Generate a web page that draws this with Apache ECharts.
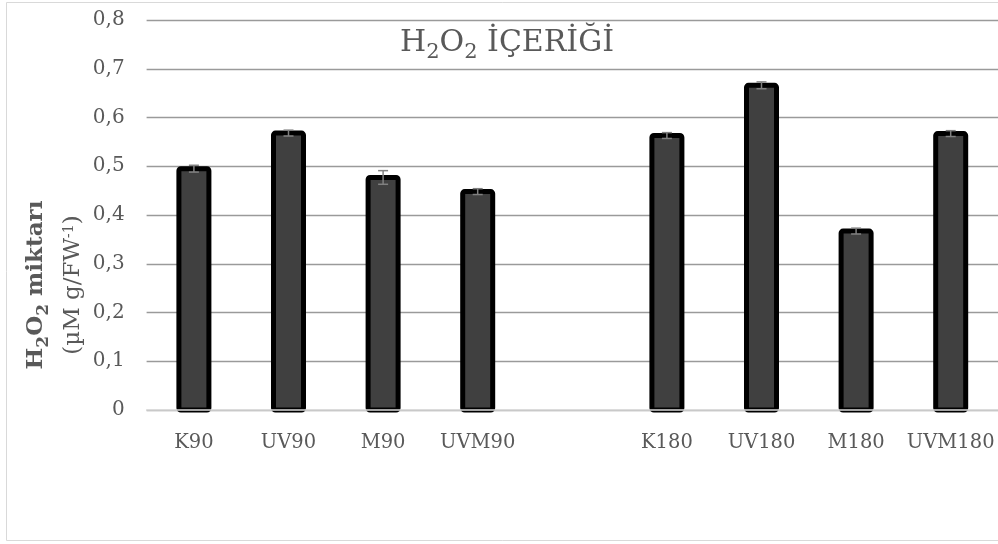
<!DOCTYPE html>
<html>
<head>
<meta charset="utf-8">
<script src="https://cdn.jsdelivr.net/npm/echarts@6/dist/echarts.min.js"></script>
<style>
  html, body { margin: 0; padding: 0; background: #fff; }
  #chart { width: 998px; height: 544px; }
</style>
</head>
<body>
<div id="chart"></div>
<script>
// H2O2 content per treatment group (90 and 180 day groups, blank slot between them)
const categories = ['K90', 'UV90', 'M90', 'UVM90', '', 'K180', 'UV180', 'M180', 'UVM180'];
const h2o2Values = [0.495, 0.568, 0.477, 0.448, null, 0.563, 0.666, 0.367, 0.567];
const h2o2Errors = [0.007, 0.006, 0.014, 0.006, null, 0.006, 0.007, 0.006, 0.006];
const yTickLabels = ['0', '0,1', '0,2', '0,3', '0,4', '0,5', '0,6', '0,7', '0,8'];

const FONT = '"DejaVu Serif", "Liberation Serif", serif';
const TEXT = '#595959';

const chart = echarts.init(document.getElementById('chart'), null, { renderer: 'canvas' });

// [categoryIndex, value, error] rows, skipping the empty slot
const rows = h2o2Values
  .map((v, i) => (v == null ? null : [i, v, h2o2Errors[i]]))
  .filter(d => d);

const BAR_W = 30;     // fill width; the 5px outline is centred on its edge
const BORDER = 5;

chart.setOption({
  animation: false,
  backgroundColor: '#ffffff',
  graphic: [
    {
      type: 'rect',
      shape: { x: 6.5, y: 2.5, width: 1000, height: 538 },
      style: { fill: 'none', stroke: '#d9d9d9', lineWidth: 1 },
      silent: true,
      z: -10
    },
    {
      // chart title
      type: 'text',
      x: 507,
      y: 28,
      style: {
        text: '{m|H}{s|2}{m|O}{s|2}{m| İÇERİĞİ}',
        align: 'center',
        verticalAlign: 'top',
        rich: {
          m: { fontFamily: FONT, fontSize: 30, fontWeight: 'normal', fill: TEXT, verticalAlign: 'top', lineHeight: 40 },
          s: { fontFamily: FONT, fontSize: 21, fontWeight: 'normal', fill: TEXT, verticalAlign: 'top', lineHeight: 26, padding: [14, 0, 0, 0] }
        }
      },
      z: 20
    },
    {
      // value axis title, two lines read bottom-to-top
      type: 'text',
      x: 62,
      y: 285,
      rotation: Math.PI / 2,
      style: {
        text: '{b|H}{bs|2}{b|O}{bs|2}{b| miktarı}\n{n|(µM g/FW}{sup|-1}{n|)}',
        align: 'center',
        verticalAlign: 'middle',
        rich: {
          b: { fontFamily: FONT, fontSize: 23, fontWeight: 'bold', fill: TEXT, verticalAlign: 'top', lineHeight: 37, align: 'center' },
          bs: { fontFamily: FONT, fontSize: 17, fontWeight: 'bold', fill: TEXT, verticalAlign: 'top', lineHeight: 27, padding: [10, 0, 0, 0], align: 'center' },
          n: { fontFamily: FONT, fontSize: 23, fill: TEXT, verticalAlign: 'top', lineHeight: 37, align: 'center' },
          sup: { fontFamily: FONT, fontSize: 14, fill: TEXT, verticalAlign: 'top', lineHeight: 23, padding: [0, 0, 14, 0], align: 'center' }
        }
      },
      z: 20
    }
  ],
  grid: {
    left: 146.6,
    right: 0,
    top: 20,
    bottom: 134,
    containLabel: false
  },
  xAxis: {
    type: 'category',
    data: categories,
    axisLine: { show: true, lineStyle: { color: '#d9d9d9', width: 1.5 } },
    axisTick: { show: false },
    axisLabel: {
      interval: 0,
      margin: 23,
      fontFamily: FONT,
      fontSize: 19.5,
      color: TEXT
    },
    z: 5
  },
  yAxis: {
    type: 'value',
    min: 0,
    max: 0.8,
    interval: 0.1,
    axisLine: { show: false },
    axisTick: { show: false },
    axisLabel: {
      margin: 22,
      fontFamily: FONT,
      fontSize: 20,
      color: TEXT,
      formatter: v => yTickLabels[Math.round(v * 10)]
    },
    splitLine: { show: true, lineStyle: { color: '#9a9a9a', width: 1.4 } }
  },
  series: [
    {
      // bars with an outline centred on the value line
      type: 'custom',
      data: rows,
      z: 2,
      encode: { x: 0, y: 1 },
      renderItem: (params, api) => {
        const top = api.coord([api.value(0), api.value(1)]);
        const base = api.coord([api.value(0), 0]);
        return {
          type: 'rect',
          shape: { x: top[0] - BAR_W / 2, y: top[1], width: BAR_W, height: base[1] - top[1], r: 2 },
          style: { fill: '#404040', stroke: '#000000', lineWidth: BORDER }
        };
      }
    },
    {
      // error bars
      type: 'custom',
      data: rows,
      z: 10,
      encode: { x: 0, y: 1 },
      renderItem: (params, api) => {
        const x = api.value(0);
        const v = api.value(1);
        const e = api.value(2);
        const hi = api.coord([x, v + e]);
        const lo = api.coord([x, v - e]);
        const cap = 5;
        const style = { stroke: '#808080', lineWidth: 1.5, fill: 'none' };
        return {
          type: 'group',
          children: [
            { type: 'line', shape: { x1: hi[0], y1: hi[1], x2: lo[0], y2: lo[1] }, style },
            { type: 'line', shape: { x1: hi[0] - cap, y1: hi[1], x2: hi[0] + cap, y2: hi[1] }, style },
            { type: 'line', shape: { x1: lo[0] - cap, y1: lo[1], x2: lo[0] + cap, y2: lo[1] }, style }
          ]
        };
      }
    }
  ]
});
</script>
</body>
</html>
